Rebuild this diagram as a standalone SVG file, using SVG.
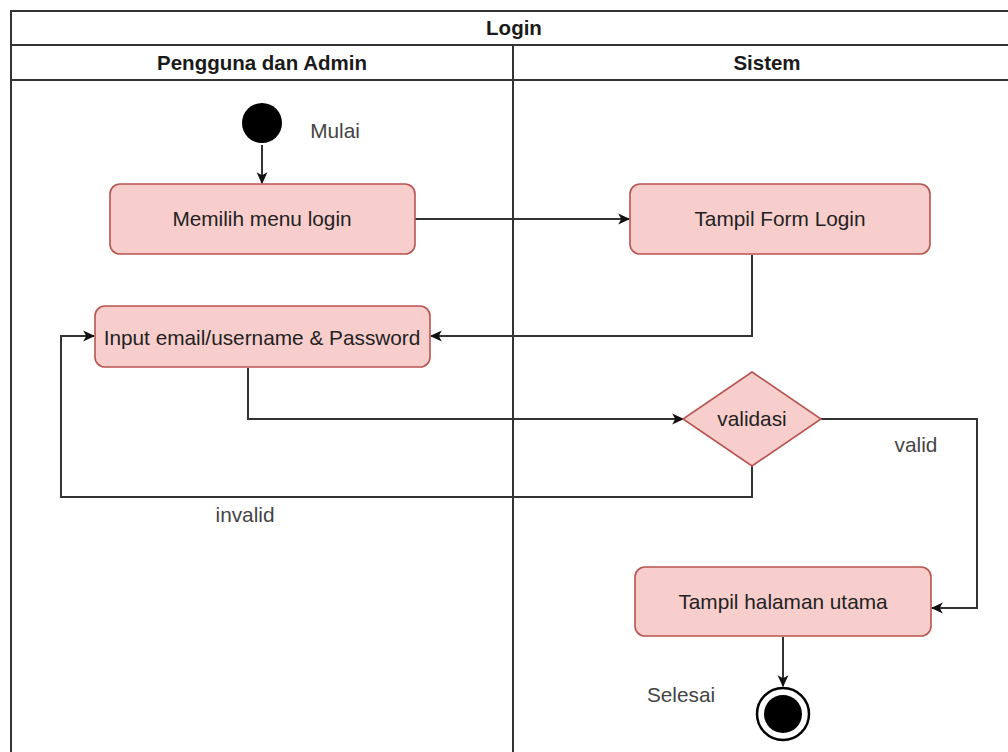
<svg xmlns="http://www.w3.org/2000/svg" width="1008" height="752" viewBox="0 0 1008 752">
<defs>
<style>
.lane{fill:none;stroke:#333;stroke-width:2}
.node{fill:#f8cecc;stroke:#b85450;stroke-width:1.6}
.t{font-family:"Liberation Sans",Arial,sans-serif;font-size:20.8px;fill:#222;text-anchor:middle;dominant-baseline:central}
.h{font-weight:bold;font-size:20.5px;fill:#1a1a1a}
.lbl{fill:#444}
.edge{fill:none;stroke:#333;stroke-width:2}
</style>
<marker id="arr" viewBox="0 0 10 10" refX="9" refY="5" markerWidth="12" markerHeight="12" markerUnits="userSpaceOnUse" orient="auto">
<path d="M0,0.5 L10,5 L0,9.5 L2.5,5 z" fill="#111"/>
</marker>
</defs>
<rect width="1008" height="752" fill="#fff"/>
<g id="pool">
<rect class="lane" x="11" y="11" width="1010" height="760"/>
<line class="lane" x1="11" y1="45" x2="1021" y2="45"/>
<line class="lane" x1="11" y1="80" x2="1021" y2="80"/>
<line class="lane" x1="513" y1="45" x2="513" y2="771"/>
<text class="t h" x="514" y="27">Login</text>
<text class="t h" x="262" y="62">Pengguna dan Admin</text>
<text class="t h" x="767" y="62">Sistem</text>
</g>
<g id="connectors">
<path class="edge" d="M262,145 V183" marker-end="url(#arr)"/>
<path class="edge" d="M415,219 H629" marker-end="url(#arr)"/>
<path class="edge" d="M752,255 V336 H431" marker-end="url(#arr)"/>
<path class="edge" d="M248,368 V419 H683" marker-end="url(#arr)"/>
<path class="edge" d="M752,466 V497 H61 V336 H94" marker-end="url(#arr)"/>
<path class="edge" d="M821,419 H977 V608 H932" marker-end="url(#arr)"/>
<path class="edge" d="M783,637 V686" marker-end="url(#arr)"/>
<text class="t lbl" x="916" y="444">valid</text>
<text class="t lbl" x="245" y="514">invalid</text>
</g>
<g id="start">
<circle cx="262" cy="123" r="20" fill="#000"/>
<text class="t lbl" x="335" y="130">Mulai</text>
</g>
<g id="memilih">
<rect class="node" x="110" y="184" width="305" height="70" rx="10"/>
<text class="t" x="262" y="218">Memilih menu login</text>
</g>
<g id="formlogin">
<rect class="node" x="630" y="184" width="300" height="70" rx="10"/>
<text class="t" x="780" y="218">Tampil Form Login</text>
</g>
<g id="input">
<rect class="node" x="95" y="306" width="335" height="61" rx="10"/>
<text class="t" x="262" y="337">Input email/username &amp; Password</text>
</g>
<g id="validasi">
<polygon class="node" points="752,372 821,419 752,466 683,419"/>
<text class="t" x="752" y="418">validasi</text>
</g>
<g id="halaman">
<rect class="node" x="635" y="567" width="296" height="69" rx="10"/>
<text class="t" x="783" y="601">Tampil halaman utama</text>
</g>
<g id="end">
<circle cx="783" cy="714" r="26" fill="#fff" stroke="#000" stroke-width="2.5"/>
<circle cx="783" cy="714" r="19" fill="#000"/>
<text class="t lbl" x="681" y="694">Selesai</text>
</g>
</svg>
